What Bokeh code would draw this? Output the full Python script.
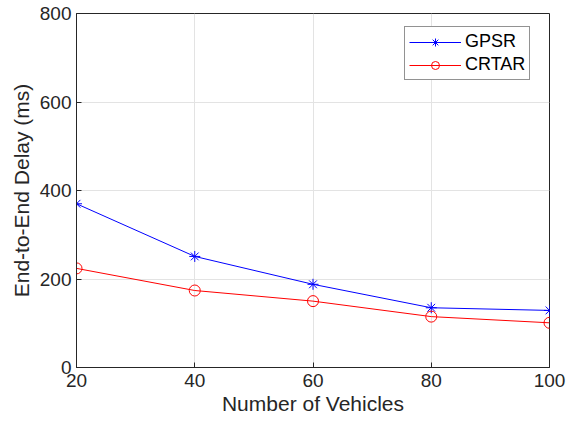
from bokeh.plotting import figure
from bokeh.embed import file_html
from bokeh.resources import INLINE
from bokeh.models import Range1d, FixedTicker, Legend, LegendItem

vehicles = [20, 40, 60, 80, 100]
gpsr = [370, 251, 188, 135, 129]
crtar = [224, 174, 150, 115, 101]
x_ticks = [20, 40, 60, 80, 100]
y_ticks = [0, 200, 400, 600, 800]

p = figure(frame_width=473, frame_height=354, output_backend="svg", toolbar_location=None,
           x_range=Range1d(20, 100), y_range=Range1d(0, 800),
           min_border_left=76, min_border_right=18, min_border_top=13, min_border_bottom=10)
p.background_fill_color = "white"
p.border_fill_color = "white"
p.outline_line_color = "#262626"
p.outline_line_width = 1

font = "Liberation Sans"
for ax in (p.xaxis, p.yaxis):
    ax.major_label_text_font = font
    ax.major_label_text_font_size = "19px"
    ax.major_label_text_color = "#262626"
    ax.axis_label_text_font = font
    ax.axis_label_text_font_size = "21px"
    ax.axis_label_text_font_style = "normal"
    ax.axis_label_text_color = "#262626"
    ax.axis_line_color = "#262626"
    ax.major_tick_line_color = "#262626"
    ax.major_tick_in = 5
    ax.major_tick_out = 0
    ax.minor_tick_line_color = None

p.xaxis.ticker = FixedTicker(ticks=x_ticks)
p.yaxis.ticker = FixedTicker(ticks=y_ticks)
p.xaxis.axis_label = "Number of Vehicles"
p.yaxis.axis_label = "End-to-End Delay (ms)"
p.xaxis.axis_label_standoff = 2
p.yaxis.axis_label_standoff = 4
p.xaxis.major_label_standoff = 6
p.yaxis.major_label_standoff = 5

p.grid.grid_line_color = "#e3e3e3"
p.grid.grid_line_width = 1

l1 = p.line(vehicles, gpsr, line_color="#0000ff", line_width=1)
m1 = p.scatter(vehicles, gpsr, marker="asterisk", size=11, line_color="#0000ff", line_width=1)
l2 = p.line(vehicles, crtar, line_color="#ff0000", line_width=1)
m2 = p.scatter(vehicles, crtar, marker="circle", size=11, line_color="#ff0000",
               fill_color=None, line_width=1)

legend = Legend(items=[LegendItem(label="GPSR", renderers=[l1, m1]),
                       LegendItem(label="CRTAR", renderers=[l2, m2])],
                location=(328, 287))
legend.label_text_font = font
legend.label_text_font_size = "18px"
legend.label_text_color = "#000000"
legend.border_line_color = "#262626"
legend.border_line_width = 1
legend.margin = 0
legend.padding = 4
legend.spacing = 2
legend.glyph_width = 52
legend.glyph_height = 20
legend.label_height = 20
legend.label_standoff = 4
legend.background_fill_alpha = 1
p.add_layout(legend)

open("out.html", "w").write(file_html(p, INLINE))
